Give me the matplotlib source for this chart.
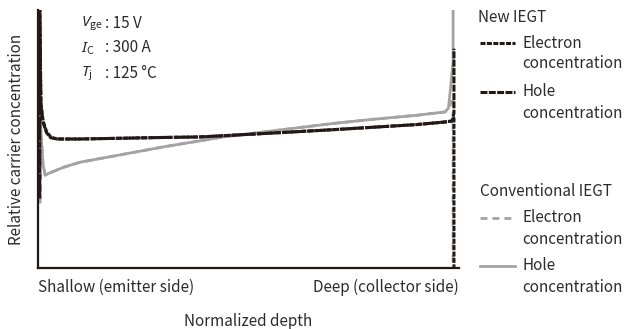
import matplotlib
matplotlib.use("Agg")
import matplotlib.pyplot as plt
from matplotlib.lines import Line2D

plt.rcParams['font.family'] = ['Noto Sans CJK JP', 'DejaVu Sans']
plt.rcParams['mathtext.fontset'] = 'custom'
plt.rcParams['mathtext.it'] = 'Noto Sans:italic'
plt.rcParams['mathtext.rm'] = 'Noto Sans CJK JP'
plt.rcParams['lines.scale_dashes'] = False

# normalized depth (0 = emitter side, 1 = collector side)
depth_new = [0.004, 0.004, 0.007, 0.012, 0.02, 0.03, 0.045, 0.1, 0.2, 0.3, 0.385,
             0.5, 0.6, 0.7, 0.8, 0.9, 0.967, 0.984, 0.988, 0.988]
new_electron = [0.27, 1.0, 0.64, 0.57, 0.53, 0.508, 0.50, 0.50, 0.503, 0.506, 0.508,
                0.518, 0.527, 0.536, 0.546, 0.556, 0.566, 0.57, 0.58, 0.0]
new_hole = [0.27, 1.0, 0.63, 0.565, 0.525, 0.505, 0.50, 0.50, 0.503, 0.506, 0.508,
            0.518, 0.527, 0.536, 0.546, 0.556, 0.566, 0.57, 0.6, 0.85]

depth_conv = [0.005, 0.008, 0.012, 0.017, 0.03, 0.06, 0.1, 0.2, 0.3, 0.44,
              0.6, 0.7, 0.8, 0.9, 0.967, 0.975, 0.98, 0.986, 0.986]
conv_electron = [0.25, 0.50, 0.40, 0.36, 0.37, 0.39, 0.41, 0.44, 0.47, 0.508,
                 0.54, 0.56, 0.577, 0.592, 0.605, 0.62, 0.64, 0.66, 0.0]
conv_hole = [0.60, 0.50, 0.40, 0.36, 0.37, 0.39, 0.41, 0.44, 0.47, 0.508,
             0.54, 0.56, 0.577, 0.592, 0.605, 0.62, 0.70, 0.80, 1.0]

BLACK = '#231815'
GRAY = '#a3a3a3'
TXT = '#2b2b2b'
FS = 11
style_new_e = dict(color=BLACK, lw=2.2, dashes=(3.6, 1.0))
style_new_h = dict(color=BLACK, lw=2.2, dashes=(5.0, 1.0))
style_conv_e = dict(color=GRAY, lw=2.0, dashes=(5.0, 3.6))
style_conv_h = dict(color=GRAY, lw=2.0, linestyle='-')

fig = plt.figure(figsize=(6.25, 3.29), dpi=100)
ax = fig.add_axes([38 / 625, 61 / 329, 421 / 625, 258 / 329])

ax.plot(depth_conv, conv_hole, **style_conv_h)
ax.plot(depth_conv, conv_electron, **style_conv_e)
ax.plot(depth_new, new_hole, **style_new_h)
ax.plot(depth_new, new_electron, **style_new_e)

ax.set_xlim(0, 1)
ax.set_ylim(0, 1)
for s in ['top', 'right']:
    ax.spines[s].set_visible(False)
for s in ['left', 'bottom']:
    ax.spines[s].set_color(BLACK)
    ax.spines[s].set_linewidth(1.6)
ax.set_yticks([])
ax.set_xticks([0, 1])
ax.set_xticklabels(['Shallow (emitter side)', 'Deep (collector side)'], fontsize=FS, color=TXT)
ax.get_xticklabels()[0].set_horizontalalignment('left')
ax.get_xticklabels()[1].set_horizontalalignment('right')
ax.get_xticklabels()[0].set_x(-0.003)
ax.tick_params(axis='x', length=0, pad=8)
ax.set_xlabel('Normalized depth', fontsize=FS, color=TXT, labelpad=12)
ax.set_ylabel('Relative carrier concentration', fontsize=FS, color=TXT, labelpad=9)

# test conditions
conds = [(r'$V_\mathrm{ge}$', ': 15 V'), (r'$I_\mathrm{C}$', ': 300 A'), (r'$T_\mathrm{j}$', ': 125 °C')]
for i, (sym, val) in enumerate(conds):
    yy = 1 - (23 + 25 * i) / 329
    fig.text(81 / 625, yy, sym, fontsize=FS, color=TXT, va='center')
    fig.text(105 / 625, yy, val, fontsize=FS, color=TXT, va='center')

# legend drawn by hand
def ly(py):
    return 1 - py / 329

def lx(px):
    return px / 625

fig.text(lx(478), ly(18), 'New IEGT', fontsize=FS, color=TXT, va='center')
fig.add_artist(Line2D([lx(480), lx(515)], [ly(43), ly(43)], **style_new_e))
fig.text(lx(522), ly(43), 'Electron', fontsize=FS, color=TXT, va='center')
fig.text(lx(522), ly(63), 'concentration', fontsize=FS, color=TXT, va='center')
fig.add_artist(Line2D([lx(480), lx(515)], [ly(92), ly(92)], **style_new_h))
fig.text(lx(522), ly(92), 'Hole', fontsize=FS, color=TXT, va='center')
fig.text(lx(522), ly(113), 'concentration', fontsize=FS, color=TXT, va='center')

fig.text(lx(480), ly(191), 'Conventional IEGT', fontsize=FS, color=TXT, va='center')
fig.add_artist(Line2D([lx(480), lx(515)], [ly(218), ly(218)], **style_conv_e))
fig.text(lx(522), ly(218), 'Electron', fontsize=FS, color=TXT, va='center')
fig.text(lx(522), ly(239), 'concentration', fontsize=FS, color=TXT, va='center')
fig.add_artist(Line2D([lx(480), lx(515)], [ly(266), ly(266)], **style_conv_h))
fig.text(lx(522), ly(266), 'Hole', fontsize=FS, color=TXT, va='center')
fig.text(lx(522), ly(287), 'concentration', fontsize=FS, color=TXT, va='center')

fig.savefig('out.png', dpi=100)
